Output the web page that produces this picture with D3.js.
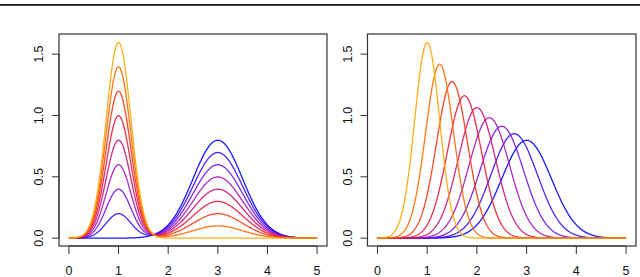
<!DOCTYPE html>
<html>
<head>
<meta charset="utf-8">
<script src="https://cdn.jsdelivr.net/npm/d3@7"></script>
<style>
  body { margin: 0; background: #fff; }
  svg { display: block; }
  text { font-family: "Liberation Sans", Arial, sans-serif; }
</style>
</head>
<body>
<svg id="chart" width="640" height="277"></svg>
<script>
// axis ticks
const xTicks = [0, 1, 2, 3, 4, 5];
const yTicks = [0, 0.5, 1.0, 1.5];
const yTickLabels = ["0.0", "0.5", "1.0", "1.5"];

// left panel: mixture  w * N(1, 0.25) + (1 - w) * N(3, 0.5)
const mixMeans = [1, 3];
const mixSds = [0.25, 0.5];
const mixWeights = [0, 0.125, 0.25, 0.375, 0.5, 0.625, 0.75, 0.875, 1];

// right panel: single gaussians moving from N(1, 0.25) to N(3, 0.5)
const moveMeans = [3, 2.75, 2.5, 2.25, 2, 1.75, 1.5, 1.25, 1];
const moveSds = [0.5, 0.46875, 0.4375, 0.40625, 0.375, 0.34375, 0.3125, 0.28125, 0.25];

// blue -> orange, first drawn is blue
const palette = ["blue", "#A020F0", "red", "orange"];

const svg = d3.select("#chart");

// header remnant from the page above (only the descenders show)
svg.append("text")
  .attr("x", 26).attr("y", -2.5)
  .attr("font-size", 11)
  .attr("fill", "#666")
  .style("font-family", "'Liberation Serif', serif")
  .text("Aggregating ... gyp");
svg.append("line")
  .attr("x1", 0).attr("x2", 640)
  .attr("y1", 4.8).attr("y2", 4.8)
  .attr("stroke", "#111").attr("stroke-width", 1.8);

const colorOf = d3.interpolateRgbBasis(palette);

function dnorm(x, m, s) {
  return Math.exp(-0.5 * ((x - m) / s) ** 2) / (s * Math.sqrt(2 * Math.PI));
}

const grid = d3.range(0, 5.0001, 0.01);

function panel(left, right, curves) {
  const top = 34, bottom = 246;
  const x = d3.scaleLinear().domain([-0.2, 5.2]).range([left, right]);
  const y = d3.scaleLinear().domain([-0.064, 1.664]).range([bottom, top]);
  const g = svg.append("g");

  const line = d3.line().x(d => x(d[0])).y(d => y(d[1]));
  curves.forEach((f, i) => {
    g.append("path")
      .datum(grid.map(v => [v, f(v)]))
      .attr("d", line)
      .attr("fill", "none")
      .attr("stroke", colorOf(i / (curves.length - 1)))
      .attr("stroke-width", 1.3)
      .attr("stroke-opacity", 0.9);
  });

  // box
  g.append("rect")
    .attr("x", left).attr("y", top)
    .attr("width", right - left).attr("height", bottom - top)
    .attr("fill", "none").attr("stroke", "#333").attr("stroke-width", 1.2);

  // x axis (R style)
  const xa = g.append("g").attr("transform", `translate(0,${bottom})`);
  xa.append("line")
    .attr("x1", x(xTicks[0])).attr("x2", x(xTicks[xTicks.length - 1]))
    .attr("stroke", "#333");
  xTicks.forEach(t => {
    xa.append("line").attr("x1", x(t)).attr("x2", x(t))
      .attr("y1", 0).attr("y2", 8).attr("stroke", "#333");
    xa.append("text").attr("x", x(t)).attr("y", 28.5)
      .attr("text-anchor", "middle").attr("font-size", 12.5).attr("fill", "#111")
      .text(t);
  });

  // y axis
  const ya = g.append("g").attr("transform", `translate(${left},0)`);
  ya.append("line")
    .attr("y1", y(yTicks[0])).attr("y2", y(yTicks[yTicks.length - 1]))
    .attr("stroke", "#333");
  yTicks.forEach((t, i) => {
    ya.append("line").attr("y1", y(t)).attr("y2", y(t))
      .attr("x1", 0).attr("x2", -7).attr("stroke", "#333");
    ya.append("text")
      .attr("transform", `translate(-16,${y(t)}) rotate(-90)`)
      .attr("text-anchor", "middle").attr("font-size", 12.5).attr("fill", "#111")
      .text(yTickLabels[i]);
  });
}

const mixCurves = mixWeights.map(w => v =>
  w * dnorm(v, mixMeans[0], mixSds[0]) + (1 - w) * dnorm(v, mixMeans[1], mixSds[1]));
const moveCurves = moveMeans.map((m, i) => v => dnorm(v, m, moveSds[i]));

panel(59, 327, mixCurves);
panel(367.5, 636, moveCurves);
</script>
</body>
</html>
